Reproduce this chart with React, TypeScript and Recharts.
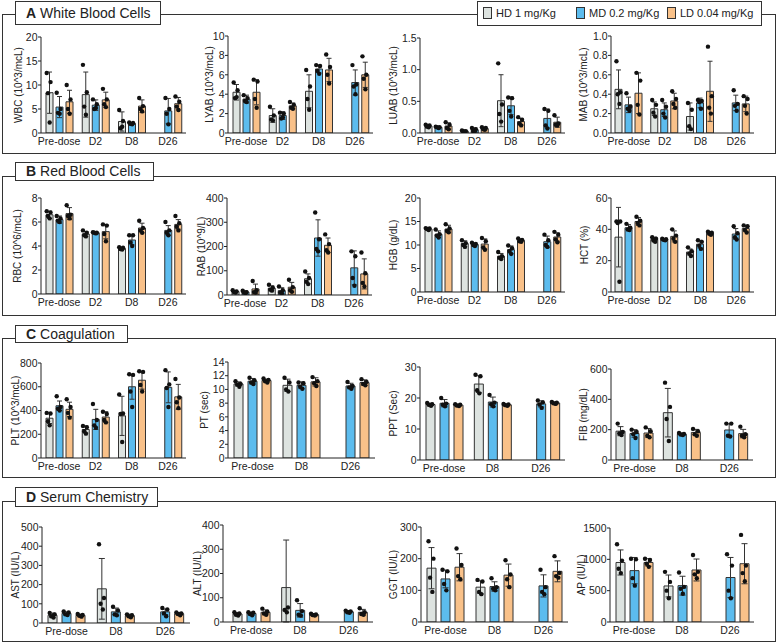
import React from 'react';
import { ComposedChart, Bar, Line, XAxis, YAxis, ErrorBar } from 'recharts';

// ---------- categories / legend ----------
const CAT4 = ['Pre-dose', 'D2', 'D8', 'D26'];
const CAT3 = ['Pre-dose', 'D8', 'D26'];
const GROUPS = ['hd', 'md', 'ld'];
const GROUP_NAMES = ['HD 1 mg/Kg', 'MD 0.2 mg/Kg', 'LD 0.04 mg/Kg'];

// ---------- A White Blood Cells ----------
const WBC_TICKS = [0, 5, 10, 15, 20];
const WBC_MEAN = [[8.4, 5.4, 6.5], [8.0, 5.8, 6.9], [2.4, 2.0, 5.6], [null, 4.6, 6.1]];
const WBC_SD = [[4.3, 2.2, 2.4], [4.7, 1.1, 1.6], [2.0, 0.2, 1.3], [null, 2.6, 1.3]];
const WBC_PTS = [
  [[12.5, 10.6, 8.3, 2.2], [8.4, 5.0, 4.2, 4.0], [10.0, 7.0, 5.0, 4.0]],
  [[14.2, 8.5, 5.5, 3.8], [7.0, 6.0, 5.0, 5.2], [9.2, 7.0, 6.0, 5.4]],
  [[4.8, 2.5, 1.0, 1.3], [2.2, 2.1, 1.9, 1.8], [7.3, 5.6, 5.0, 4.5]],
  [[], [7.3, 5.0, 4.0, 1.8], [7.6, 6.5, 5.5, 4.8]],
];

const LYAB_TICKS = [0, 2, 4, 6, 8, 10];
const LYAB_MEAN = [[4.2, 3.5, 4.2], [1.8, 1.8, 2.8], [4.3, 6.6, 6.5], [null, 5.2, 6.0]];
const LYAB_SD = [[0.8, 0.4, 1.3], [0.7, 0.4, 0.3], [1.7, 0.4, 1.2], [null, 1.3, 1.3]];
const LYAB_PTS = [
  [[5.2, 4.4, 3.6, 3.7], [3.9, 3.6, 3.3, 3.2], [5.5, 5.3, 3.5, 2.6]],
  [[2.7, 1.8, 1.4, 1.3], [2.1, 2.0, 1.5, 1.6], [3.2, 2.9, 2.6, 2.5]],
  [[6.5, 4.8, 3.5, 2.4], [7.0, 6.9, 6.4, 6.1], [8.1, 6.8, 6.0, 5.1]],
  [[], [7.0, 5.0, 4.8, 4.0], [7.9, 6.0, 5.6, 4.5]],
];

const LUAB_TICKS = [0, 0.5, 1.0, 1.5];
const LUAB_MEAN = [[0.11, 0.09, 0.11], [0.03, 0.05, 0.07], [0.51, 0.43, 0.18], [null, 0.23, 0.17]];
const LUAB_SD = [[0.02, 0.01, 0.05], [0.01, 0.03, 0.02], [0.41, 0.14, 0.05], [null, 0.15, 0.08]];
const LUAB_PTS = [
  [[0.13, 0.12, 0.10, 0.09], [0.10, 0.09, 0.09, 0.08], [0.17, 0.13, 0.08, 0.06]],
  [[0.04, 0.03, 0.03, 0.02], [0.08, 0.06, 0.03, 0.03], [0.09, 0.08, 0.06, 0.05]],
  [[1.10, 0.45, 0.30, 0.18], [0.56, 0.55, 0.35, 0.26], [0.25, 0.21, 0.15, 0.12]],
  [[], [0.38, 0.35, 0.12, 0.07], [0.28, 0.15, 0.13, 0.12]],
];

const MAB_TICKS = [0, 0.2, 0.4, 0.6, 0.8, 1.0];
const MAB_MEAN = [[0.45, 0.29, 0.41], [0.25, 0.24, 0.33], [0.17, 0.31, 0.43], [null, 0.31, 0.30]];
const MAB_SD = [[0.2, 0.08, 0.21], [0.07, 0.07, 0.08], [0.14, 0.05, 0.31], [null, 0.08, 0.08]];
const MAB_PTS = [
  [[0.74, 0.42, 0.40, 0.30], [0.41, 0.27, 0.25, 0.23], [0.62, 0.54, 0.29, 0.19]],
  [[0.34, 0.29, 0.21, 0.17], [0.34, 0.27, 0.20, 0.16], [0.43, 0.35, 0.30, 0.26]],
  [[0.31, 0.24, 0.07, 0.04], [0.34, 0.33, 0.32, 0.25], [0.89, 0.38, 0.26, 0.20]],
  [[], [0.44, 0.30, 0.28, 0.23], [0.38, 0.35, 0.28, 0.20]],
];

// ---------- B Red Blood Cells ----------
const RBC_TICKS = [0, 2, 4, 6, 8];
const RBC_MEAN = [[6.6, 6.2, 6.7], [5.0, 5.1, 5.2], [3.8, 4.5, 5.5], [null, 5.3, 5.8]];
const RBC_SD = [[0.3, 0.3, 0.5], [0.2, 0.05, 0.6], [0.1, 0.4, 0.4], [null, 0.4, 0.4]];
const RBC_PTS = [
  [[6.9, 6.8, 6.5, 6.3], [6.5, 6.3, 6.1, 6.0], [7.4, 6.6, 6.5, 6.3]],
  [[5.3, 5.1, 4.9, 4.8], [5.15, 5.1, 5.1, 5.05], [5.8, 5.7, 5.0, 4.4]],
  [[3.9, 3.85, 3.75, 3.7], [4.9, 4.9, 4.3, 4.0], [6.1, 5.5, 5.3, 5.1]],
  [[], [6.0, 5.3, 5.1, 4.9], [6.5, 5.9, 5.6, 5.3]],
];

const RAB_TICKS = [0, 100, 200, 300, 400];
const RAB_MEAN = [[14, 12, 25], [28, 18, 32], [67, 235, 205], [null, 112, 87]];
const RAB_SD = [[5, 5, 20], [10, 12, 20], [20, 75, 30], [null, 70, 62]];
const RAB_PTS = [
  [[20, 15, 12, 10], [18, 12, 10, 8], [58, 20, 12, 10]],
  [[42, 30, 22, 18], [35, 20, 10, 7], [63, 32, 20, 13]],
  [[97, 70, 55, 45], [340, 230, 190, 180], [250, 210, 185, 175]],
  [[], [180, 160, 70, 38], [175, 90, 50, 35]],
];

const HGB_TICKS = [0, 5, 10, 15, 20];
const HGB_MEAN = [[13.4, 12.3, 13.4], [10.3, 10.1, 10.2], [7.6, 9.0, 11.0], [null, 10.7, 11.7]];
const HGB_SD = [[0.2, 0.7, 0.8], [0.6, 0.3, 1.1], [0.6, 0.8, 0.3], [null, 1.2, 0.9]];
const HGB_PTS = [
  [[13.6, 13.5, 13.4, 13.2], [13.3, 12.3, 12.0, 11.6], [14.4, 13.5, 13.0, 12.7]],
  [[11.0, 10.4, 10.0, 9.6], [10.5, 10.2, 10.0, 9.8], [11.5, 10.8, 9.5, 9.0]],
  [[8.5, 7.6, 7.3, 7.0], [9.9, 9.3, 8.7, 8.1], [11.4, 11.1, 10.8, 10.7]],
  [[], [12.2, 11.0, 10.0, 9.6], [12.8, 12.2, 11.2, 10.6]],
];

const HCT_TICKS = [0, 20, 40, 60];
const HCT_MEAN = [[35, 41, 45], [33.5, 33.5, 35.5], [25.5, 30.5, 37.5], [null, 37, 40.5]];
const HCT_SD = [[19, 2, 2.5], [1.5, 0.5, 3.5], [2, 2.5, 0.8], [null, 3.5, 2]];
const HCT_PTS = [
  [[45, 45, 44, 6.5], [43.5, 41, 40, 39.5], [48, 45.5, 44, 42.5]],
  [[35, 34, 33, 32], [34, 33.7, 33.3, 33], [40, 36, 34, 32]],
  [[28.5, 26, 24.5, 23], [33, 32, 29.5, 27.5], [38.5, 37.8, 37.2, 36.5]],
  [[], [42, 37.5, 35, 33.5], [42.5, 42, 39.5, 38]],
];

// ---------- C Coagulation ----------
const PLT_TICKS = [0, 200, 400, 600, 800];
const PLT_MEAN = [[335, 440, 410], [240, 325, 345], [355, 600, 655], [null, 595, 515]];
const PLT_SD = [[45, 40, 60], [30, 85, 45], [165, 105, 75], [null, 130, 105]];
const PLT_PTS = [
  [[380, 375, 310, 275], [520, 430, 415, 400], [495, 430, 380, 340]],
  [[270, 260, 225, 205], [455, 320, 275, 255], [390, 370, 320, 300]],
  [[535, 375, 370, 135], [705, 700, 560, 430], [730, 725, 615, 560]],
  [[], [740, 620, 590, 430], [665, 510, 470, 420]],
];

const PT_TICKS = [0, 2, 4, 6, 8, 10, 12, 14];
const PT_MEAN = [[10.8, 11.2, 11.3], [10.6, 10.6, 11.1], [null, 10.5, 11.0]];
const PT_SD = [[0.3, 0.4, 0.2], [0.9, 0.5, 0.6], [null, 0.4, 0.4]];
const PT_PTS = [
  [[11.2, 10.8, 10.7, 10.4], [11.7, 11.3, 11.0, 10.8], [11.6, 11.4, 11.2, 11.0]],
  [[11.7, 11.0, 10.0, 9.7], [11.0, 10.9, 10.4, 10.1], [11.8, 11.2, 10.9, 10.5]],
  [[], [11.1, 10.5, 10.3, 10.1], [11.5, 11.1, 10.8, 10.6]],
];

const PPT_TICKS = [0, 10, 20, 30];
const PPT_MEAN = [[17.9, 18.3, 17.7], [24.5, 18.7, 17.8], [null, 18.1, 18.4]];
const PPT_SD = [[0.4, 1.2, 0.3], [2.7, 1.6, 0.3], [null, 1.0, 0.3]];
const PPT_PTS = [
  [[18.4, 18.0, 17.8, 17.5], [20.0, 18.2, 17.8, 17.3], [18.0, 17.8, 17.6, 17.4]],
  [[27.5, 27.0, 22.5, 21.5], [21.0, 18.5, 18.0, 17.3], [18.1, 17.9, 17.7, 17.5]],
  [[], [19.2, 18.6, 17.9, 16.8], [18.7, 18.5, 18.3, 18.1]],
];

const FIB_TICKS = [0, 200, 400, 600];
const FIB_MEAN = [[190, 175, 178], [312, 170, 182], [null, 198, 174]];
const FIB_SD = [[30, 25, 30], [160, 8, 20], [null, 40, 28]];
const FIB_PTS = [
  [[240, 185, 175, 165], [200, 185, 170, 145], [215, 190, 160, 150]],
  [[510, 350, 270, 125], [178, 172, 168, 165], [205, 190, 170, 160]],
  [[], [240, 240, 160, 155], [220, 170, 160, 150]],
];

// ---------- D Serum Chemistry ----------
const AST_TICKS = [0, 100, 200, 300, 400, 500];
const AST_MEAN = [[40, 50, 40], [178, 58, 38], [null, 58, 48]];
const AST_SD = [[12, 8, 6], [158, 20, 8], [null, 15, 7]];
const AST_PTS = [
  [[52, 45, 35, 28], [60, 55, 45, 42], [47, 42, 38, 33]],
  [[410, 130, 100, 70], [85, 65, 45, 40], [45, 40, 35, 30]],
  [[], [78, 70, 50, 35], [55, 50, 47, 40]],
];

const ALT_TICKS = [0, 100, 200, 300, 400];
const ALT_MEAN = [[33, 35, 40], [142, 48, 30], [null, 42, 40]];
const ALT_SD = [[6, 6, 10], [196, 28, 4], [null, 5, 12]];
const ALT_PTS = [
  [[40, 35, 30, 27], [40, 38, 33, 28], [55, 42, 35, 30]],
  [[420, 60, 50, 40], [90, 45, 30, 27], [34, 31, 29, 27]],
  [[], [47, 44, 40, 38], [57, 40, 33, 30]],
];

const GGT_TICKS = [0, 100, 200, 300];
const GGT_MEAN = [[170, 136, 173], [110, 112, 148], [null, 114, 160]];
const GGT_SD = [[65, 28, 43], [20, 15, 35], [null, 35, 33]];
const GGT_PTS = [
  [[255, 200, 140, 95], [165, 160, 120, 100], [232, 180, 145, 135]],
  [[133, 128, 95, 88], [138, 110, 105, 100], [195, 150, 135, 110]],
  [[], [165, 110, 95, 88], [208, 155, 145, 140]],
];

const AP_TICKS = [0, 500, 1000, 1500];
const AP_MEAN = [[950, 820, 950], [575, 580, 830], [null, 710, 930]];
const AP_SD = [[200, 210, 60], [175, 150, 175], [null, 320, 320]];
const AP_PTS = [
  [[1240, 980, 850, 780], [1010, 1000, 700, 580], [1010, 990, 930, 880]],
  [[800, 640, 500, 380], [790, 560, 530, 450], [1070, 800, 760, 700]],
  [[], [1080, 900, 500, 380], [1390, 900, 780, 650]],
];

// ---------- styles ----------
const FILLS = ['#DDE3E0', '#5CBCEE', '#F9C189'];
const INK = '#222';
const FONT = '"Liberation Sans", Arial, Helvetica, sans-serif';
const JITTER = [-0.55, 0.55, -0.2, 0.3];
const TICK_FS = 10.5;
const LABEL_FS = 10;

function buildRows(cats: string[], mean: any[], sd: any[], pts: any[]) {
  return cats.map((cat, i) => {
    const row: any = { cat };
    GROUPS.forEach((g, j) => {
      const m = mean[i][j];
      const s = sd[i][j];
      row[g] = m;
      row[g + 'Err'] = m == null ? null : [Math.min(s, m), s];
      const p = pts[i][j] || [];
      for (let k = 0; k < 4; k++) row[g + k] = p[k] == null ? null : p[k];
    });
    return row;
  });
}

const LEFT = 44;
const TOPM = 8;
const RIGHT = 8;
const XH = 20;

function Panel(props: any) {
  const { x, top, zero, w, cats, mean, sd, pts, ticks, dec, label, ld, padL = 0 } = props;
  const four = cats.length === 4;
  const barSize = four ? 7 : 9;
  const barGap = four ? 3 : 5;
  const cap = four ? 2.5 : 3;
  const rows = buildRows(cats, mean, sd, pts);
  const yMax = ticks[ticks.length - 1];
  const h = zero - top;
  const W = LEFT + w + RIGHT;
  const H = TOPM + h + XH;
  const makeDot = (offset: number, key: string) => (p: any) => {
    const k = `${key}-${p.index}`;
    if (p.cx == null || p.cy == null || p.value == null || p.value > yMax) return <g key={k} />;
    return <circle key={k} cx={p.cx + offset} cy={p.cy} r={2.2} fill="#111" stroke="none" />;
  };
  const lines: any[] = [];
  GROUPS.forEach((g, j) => {
    for (let k = 0; k < 4; k++) {
      const off = (j - 1) * (barSize + barGap) - 0.5 + JITTER[k] * barSize * 0.5;
      lines.push(
        <Line
          key={g + k}
          dataKey={g + k}
          stroke="none"
          dot={makeDot(off, g + k)}
          activeDot={false}
          isAnimationActive={false}
          legendType="none"
        />
      );
    }
  });
  return (
    <div style={{ position: 'absolute', left: x - LEFT, top: top - TOPM, width: W, height: H }}>
      <ComposedChart
        width={W}
        height={H}
        data={rows}
        margin={{ top: TOPM, right: RIGHT, bottom: 0, left: 0 }}
        barSize={barSize}
        barGap={barGap}
      >
        <XAxis
          dataKey="cat"
          type="category"
          interval={0}
          height={XH}
          tickLine={false}
          tickSize={3}
          tickMargin={2}
          padding={{ left: padL, right: 0 }}
          axisLine={{ stroke: INK, strokeWidth: 1 }}
          tick={{ fontSize: TICK_FS, fill: INK }}
        />
        <YAxis
          type="number"
          width={LEFT}
          domain={[0, yMax]}
          ticks={ticks}
          allowDataOverflow
          interval={0}
          tickSize={3}
          tickMargin={0.5}
          tickFormatter={(v: number) => v.toFixed(dec)}
          axisLine={{ stroke: INK, strokeWidth: 1 }}
          tickLine={{ stroke: INK, strokeWidth: 1 }}
          tick={{ fontSize: TICK_FS, fill: INK }}
          label={{
            value: label,
            angle: -90,
            position: 'insideLeft',
            offset: LEFT - ld,
            style: { textAnchor: 'middle', fontSize: LABEL_FS, fill: INK },
          }}
        />
        {GROUPS.map((g, j) => (
          <Bar key={g} dataKey={g} fill={FILLS[j]} stroke="#333" strokeWidth={1} isAnimationActive={false}>
            <ErrorBar dataKey={g + 'Err'} width={cap} stroke="#333" strokeWidth={1} direction="y" />
          </Bar>
        ))}
        {lines}
      </ComposedChart>
    </div>
  );
}

const PANELS = [
  // A
  { x: 41, top: 37, zero: 133, w: 145, cats: CAT4, mean: WBC_MEAN, sd: WBC_SD, pts: WBC_PTS, ticks: WBC_TICKS, dec: 0, label: 'WBC (10^3/mcL)', ld: 23 },
  { x: 228, top: 36, zero: 133, w: 145, cats: CAT4, mean: LYAB_MEAN, sd: LYAB_SD, pts: LYAB_PTS, ticks: LYAB_TICKS, dec: 0, label: 'LYAB (10^3/mcL)', ld: 19 },
  { x: 420, top: 38, zero: 133, w: 145, cats: CAT4, mean: LUAB_MEAN, sd: LUAB_SD, pts: LUAB_PTS, ticks: LUAB_TICKS, dec: 1, label: 'LUAB (10^3/mcL)', ld: 27 },
  { x: 611, top: 36, zero: 133, w: 143, cats: CAT4, mean: MAB_MEAN, sd: MAB_SD, pts: MAB_PTS, ticks: MAB_TICKS, dec: 1, label: 'MAB (10^3/mcL)', ld: 28 },
  // B
  { x: 41, top: 198, zero: 294, w: 145, cats: CAT4, mean: RBC_MEAN, sd: RBC_SD, pts: RBC_PTS, ticks: RBC_TICKS, dec: 0, label: 'RBC (10^6/mcL)', ld: 24 },
  { x: 227, top: 198, zero: 295, w: 145, cats: CAT4, mean: RAB_MEAN, sd: RAB_SD, pts: RAB_PTS, ticks: RAB_TICKS, dec: 0, label: 'RAB (10^9/L)', ld: 26 },
  { x: 420, top: 198, zero: 292, w: 145, cats: CAT4, mean: HGB_MEAN, sd: HGB_SD, pts: HGB_PTS, ticks: HGB_TICKS, dec: 0, label: 'HGB (g/dL)', ld: 27 },
  { x: 611, top: 198, zero: 292, w: 143, cats: CAT4, mean: HCT_MEAN, sd: HCT_SD, pts: HCT_PTS, ticks: HCT_TICKS, dec: 0, label: 'HCT (%)', ld: 27 },
  // C
  { x: 41, top: 363, zero: 458, w: 145, cats: CAT4, mean: PLT_MEAN, sd: PLT_SD, pts: PLT_PTS, ticks: PLT_TICKS, dec: 0, label: 'PLT (10^3/mcL)', ld: 26 },
  { x: 228, top: 362, zero: 458, w: 147, cats: CAT3, mean: PT_MEAN, sd: PT_SD, pts: PT_PTS, ticks: PT_TICKS, dec: 0, label: 'PT (sec)', ld: 24 },
  { x: 420, top: 367, zero: 460, w: 145, cats: CAT3, mean: PPT_MEAN, sd: PPT_SD, pts: PPT_PTS, ticks: PPT_TICKS, dec: 0, label: 'PPT (Sec)', ld: 27 },
  { x: 611, top: 369, zero: 460, w: 142, cats: CAT3, mean: FIB_MEAN, sd: FIB_SD, pts: FIB_PTS, ticks: FIB_TICKS, dec: 0, label: 'FIB (mg/dL)', ld: 28 },
  // D
  { x: 42, top: 527, zero: 623, w: 148, cats: CAT3, mean: AST_MEAN, sd: AST_SD, pts: AST_PTS, ticks: AST_TICKS, dec: 0, label: 'AST (IU/L)', ld: 27 },
  { x: 223, top: 525, zero: 622, w: 150, cats: CAT3, mean: ALT_MEAN, sd: ALT_SD, pts: ALT_PTS, ticks: ALT_TICKS, dec: 0, label: 'ALT (IU/L)', ld: 26, padL: 4 },
  { x: 421, top: 527, zero: 622, w: 147, cats: CAT3, mean: GGT_MEAN, sd: GGT_SD, pts: GGT_PTS, ticks: GGT_TICKS, dec: 0, label: 'GGT (IU/L)', ld: 28 },
  { x: 610, top: 528, zero: 622, w: 144, cats: CAT3, mean: AP_MEAN, sd: AP_SD, pts: AP_PTS, ticks: AP_TICKS, dec: 0, label: 'AP (IU/L)', ld: 29 },
];

const SECTIONS = [
  { letter: 'A', title: 'White Blood Cells', frameTop: 14, frameBottom: 154, boxTop: 1, boxH: 24, boxW: 146 },
  { letter: 'B', title: 'Red Blood Cells', frameTop: 176, frameBottom: 316, boxTop: 162, boxH: 19, boxW: 139 },
  { letter: 'C', title: 'Coagulation', frameTop: 338, frameBottom: 478, boxTop: 325, boxH: 18, boxW: 113 },
  { letter: 'D', title: 'Serum Chemistry', frameTop: 501, frameBottom: 642, boxTop: 487, boxH: 20, boxW: 143 },
];

const LEGEND_X = [483, 576, 667];

export default function App() {
  return (
    <div
      style={{
        position: 'absolute',
        left: 0,
        top: 0,
        width: 779,
        height: 643,
        background: '#fff',
        fontFamily: FONT,
        color: INK,
        overflow: 'hidden',
      }}
    >
      {SECTIONS.map((s) => (
        <div
          key={s.letter + 'f'}
          style={{
            position: 'absolute',
            left: 2,
            top: s.frameTop,
            width: 774,
            height: s.frameBottom - s.frameTop,
            border: '1px solid #333',
            boxSizing: 'border-box',
          }}
        />
      ))}
      {PANELS.map((p, i) => (
        <Panel key={i} {...p} />
      ))}
      {SECTIONS.map((s) => (
        <div
          key={s.letter + 't'}
          style={{
            position: 'absolute',
            left: 15,
            top: s.boxTop,
            width: s.boxW,
            height: s.boxH,
            border: '1px solid #333',
            boxSizing: 'border-box',
            background: '#fff',
            fontSize: 14,
            lineHeight: s.boxH - 2 + 'px',
            paddingLeft: 10,
            whiteSpace: 'nowrap',
          }}
        >
          <b>{s.letter}</b> {s.title}
        </div>
      ))}
      <div
        style={{
          position: 'absolute',
          left: 477,
          top: 1,
          width: 285,
          height: 25,
          border: '1px solid #333',
          boxSizing: 'border-box',
          background: '#fff',
        }}
      />
      {GROUP_NAMES.map((n, j) => (
        <div
          key={n}
          style={{
            position: 'absolute',
            left: LEGEND_X[j],
            top: 7,
            height: 12,
            display: 'flex',
            alignItems: 'center',
            fontSize: 11,
            whiteSpace: 'nowrap',
          }}
        >
          <span
            style={{
              display: 'inline-block',
              width: 7,
              height: 10,
              background: FILLS[j],
              border: '1px solid #333',
              marginRight: 4,
            }}
          />
          {n}
        </div>
      ))}
    </div>
  );
}
